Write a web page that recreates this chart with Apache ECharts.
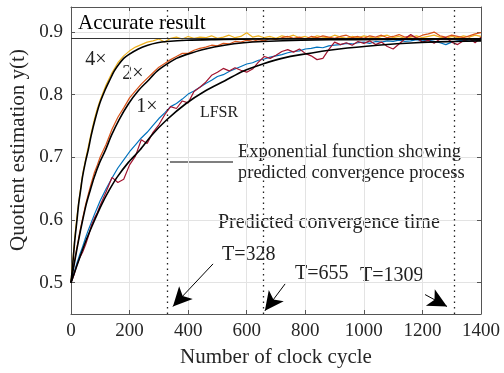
<!DOCTYPE html>
<html>
<head>
<meta charset="utf-8">
<script src="https://cdn.jsdelivr.net/npm/echarts@6/dist/echarts.min.js"></script>
<style>
  html, body { margin: 0; padding: 0; background: #fff; }
  #chart { width: 504px; height: 373px; }
</style>
</head>
<body>
<div id="chart"></div>
<script>
  // clock cycles at which the noisy traces were read
  var tGrid = [0, 5, 10, 15, 20, 25, 30, 40, 50, 60, 70, 80, 90, 100,
    120, 140, 160, 180, 200, 220, 240, 260, 280, 300,
    320, 340, 360, 380, 400, 420, 440, 460, 480, 500,
    520, 540, 560, 580, 600, 620, 640, 660, 680, 700,
    720, 740, 760, 780, 800, 820, 840, 860, 880, 900,
    920, 940, 960, 980, 1000, 1020, 1040, 1060, 1080, 1100,
    1120, 1140, 1160, 1180, 1200, 1220, 1240, 1260, 1280, 1300,
    1320, 1340, 1360, 1380, 1400];

  var y4x = [0.500, 0.531, 0.556, 0.582, 0.604, 0.624, 0.641, 0.674, 0.697, 0.719, 0.741, 0.761, 0.778, 0.792,
    0.816, 0.835, 0.851, 0.862, 0.870, 0.876, 0.880, 0.884, 0.886, 0.889,
    0.884, 0.890, 0.892, 0.889, 0.893, 0.890, 0.892, 0.891, 0.894, 0.890,
    0.892, 0.895, 0.891, 0.893, 0.899, 0.892, 0.894, 0.891, 0.893, 0.890,
    0.894, 0.892, 0.895, 0.891, 0.893, 0.890, 0.894, 0.892, 0.891, 0.895,
    0.892, 0.890, 0.893, 0.891, 0.894, 0.892, 0.890, 0.893, 0.895, 0.891,
    0.893, 0.890, 0.892, 0.894, 0.891, 0.893, 0.895, 0.892, 0.890, 0.893,
    0.891, 0.894, 0.892, 0.895, 0.893];

  var y2x = [0.500, 0.515, 0.530, 0.543, 0.556, 0.568, 0.581, 0.603, 0.625, 0.643, 0.660, 0.676, 0.688, 0.701,
    0.721, 0.745, 0.764, 0.779, 0.795, 0.806, 0.817, 0.826, 0.835, 0.844,
    0.850, 0.856, 0.861, 0.866, 0.866, 0.871, 0.874, 0.876, 0.879, 0.878,
    0.882, 0.881, 0.885, 0.884, 0.887, 0.885, 0.888, 0.886, 0.890, 0.888,
    0.891, 0.893, 0.890, 0.892, 0.889, 0.893, 0.891, 0.894, 0.892, 0.890,
    0.893, 0.895, 0.891, 0.893, 0.890, 0.894, 0.892, 0.895, 0.891, 0.893,
    0.896, 0.892, 0.894, 0.891, 0.895, 0.897, 0.900, 0.894, 0.892, 0.895,
    0.893, 0.891, 0.894, 0.897, 0.899];

  var y1x = [0.500, 0.508, 0.515, 0.523, 0.531, 0.538, 0.545, 0.558, 0.572, 0.585, 0.597, 0.609, 0.620, 0.631,
    0.650, 0.667, 0.683, 0.696, 0.709, 0.720, 0.731, 0.740, 0.751, 0.762,
    0.771, 0.781, 0.786, 0.793, 0.801, 0.806, 0.812, 0.818, 0.823, 0.829,
    0.832, 0.837, 0.841, 0.845, 0.849, 0.851, 0.855, 0.857, 0.860, 0.862,
    0.864, 0.867, 0.869, 0.870, 0.873, 0.874, 0.876, 0.875, 0.878, 0.879,
    0.880, 0.882, 0.881, 0.883, 0.884, 0.882, 0.885, 0.884, 0.886, 0.885,
    0.887, 0.885, 0.886, 0.888, 0.886, 0.887, 0.885, 0.883, 0.880, 0.884,
    0.886, 0.887, 0.885, 0.888, 0.887];

  var yLfsr = [0.500, 0.506, 0.512, 0.520, 0.528, 0.534, 0.540, 0.549, 0.561, 0.575, 0.592, 0.603, 0.612, 0.624,
    0.645, 0.668, 0.660, 0.665, 0.688, 0.702, 0.728, 0.722, 0.740, 0.752,
    0.768, 0.781, 0.778, 0.790, 0.787, 0.805, 0.812, 0.820, 0.831, 0.836,
    0.842, 0.838, 0.843, 0.839, 0.836, 0.841, 0.852, 0.861, 0.858, 0.863,
    0.869, 0.872, 0.868, 0.873, 0.866, 0.862, 0.856, 0.858, 0.872, 0.884,
    0.880, 0.883, 0.879, 0.885, 0.882, 0.886, 0.880, 0.884, 0.877, 0.873,
    0.881, 0.889, 0.896, 0.890, 0.884, 0.887, 0.882, 0.889, 0.891, 0.884,
    0.880, 0.886, 0.890, 0.883, 0.892];

  // black predicted curves
  var fit4T = [0, 7, 13, 20, 26, 33, 39, 49, 59, 69, 82, 98, 115, 131, 148, 164, 180, 197, 230, 262, 295, 328, 394, 492, 656, 1400];
  var fit4Y = [0.500, 0.535, 0.568, 0.598, 0.625, 0.648, 0.668, 0.692, 0.712, 0.735, 0.760, 0.786, 0.806, 0.822, 0.838, 0.849, 0.858, 0.864, 0.873, 0.879, 0.883, 0.885, 0.887, 0.888, 0.889, 0.889];
  var fit2T = [0, 13, 26, 39, 52, 66, 79, 98, 118, 138, 164, 197, 229, 262, 295, 328, 360, 393, 459, 524, 590, 655, 786, 983, 1310, 1400];
  var fit2Y = [0.500, 0.535, 0.568, 0.598, 0.625, 0.648, 0.668, 0.692, 0.712, 0.735, 0.760, 0.786, 0.806, 0.822, 0.838, 0.849, 0.858, 0.864, 0.873, 0.879, 0.883, 0.885, 0.887, 0.888, 0.889, 0.889];
  var fit1T = [0, 26, 52, 79, 105, 131, 157, 196, 236, 275, 327, 393, 458, 524, 589, 655, 720, 785, 916, 1047, 1178, 1309, 1400];
  var fit1Y = [0.500, 0.535, 0.568, 0.598, 0.625, 0.648, 0.668, 0.692, 0.712, 0.735, 0.760, 0.786, 0.806, 0.822, 0.838, 0.849, 0.858, 0.864, 0.873, 0.879, 0.883, 0.885, 0.886];

  var accurate = 0.889;
  var convTimes = [328, 655, 1309];
  // arrows: [from t, from y, to t, to y]
  var arrows = [
    [485, 0.530, 348, 0.462],
    [731, 0.498, 662, 0.455],
    [1209, 0.481, 1284, 0.462]
  ];

  var serif = '"Liberation Serif", "Times New Roman", serif';
  var axisCol = '#555';

  function pairs(xs, ys) {
    return xs.map(function (x, i) { return [x, ys[i]]; });
  }

  function noisy(name, ys, color) {
    return {
      name: name, type: 'line', showSymbol: false,
      data: pairs(tGrid, ys),
      lineStyle: { color: color, width: 1.2 }
    };
  }

  function fit(name, xs, ys) {
    return {
      name: name, type: 'line', smooth: 0.3, showSymbol: false, z: 5,
      data: pairs(xs, ys),
      lineStyle: { color: '#000', width: 1.6 }
    };
  }

  var myChart = echarts.init(document.getElementById('chart'));

  var option = {
    animation: false,
    backgroundColor: '#fff',
    grid: { left: 71, right: 23, top: 7, bottom: 55 },
    xAxis: [
      {
        type: 'value', min: 0, max: 1400, interval: 200,
        name: 'Number of clock cycle', nameLocation: 'middle', nameGap: 33,
        nameTextStyle: { fontFamily: serif, fontSize: 21, color: '#262626' },
        axisLine: { onZero: false, lineStyle: { color: axisCol } },
        axisTick: { inside: true, length: 4, lineStyle: { color: axisCol } },
        axisLabel: {
          fontFamily: serif, fontSize: 19, color: '#262626', margin: 8,
          formatter: function (v) { return String(v); }
        },
        splitLine: { lineStyle: { color: '#e3e3e3' } }
      },
      {
        type: 'value', min: 0, max: 1400, interval: 200, position: 'top',
        axisLine: { onZero: false, lineStyle: { color: axisCol } },
        axisTick: { inside: true, length: 4, lineStyle: { color: axisCol } },
        axisLabel: { show: false },
        splitLine: { show: false }
      }
    ],
    yAxis: [
      {
        type: 'value', min: 0.45, max: 0.94, splitNumber: 5,
        axisLine: { show: true, onZero: false, lineStyle: { color: axisCol } },
        axisTick: { show: true, inside: true, length: 4, lineStyle: { color: axisCol } },
        axisLabel: {
          fontFamily: serif, fontSize: 19, color: '#262626', margin: 8,
          showMinLabel: false, showMaxLabel: false,
          formatter: function (v) { return v.toFixed(1); }
        },
        splitLine: { lineStyle: { color: '#e3e3e3' } }
      },
      {
        type: 'value', min: 0.45, max: 0.94, splitNumber: 5, position: 'right',
        axisLine: { show: true, onZero: false, lineStyle: { color: axisCol } },
        axisTick: { show: true, inside: true, length: 4, lineStyle: { color: axisCol } },
        axisLabel: { show: false },
        splitLine: { show: false }
      }
    ],
    series: [
      noisy('4x', y4x, '#EDB120'),
      noisy('2x', y2x, '#D95319'),
      noisy('1x', y1x, '#0072BD'),
      noisy('LFSR', yLfsr, '#A2142F'),
      fit('fit4', fit4T, fit4Y),
      fit('fit2', fit2T, fit2Y),
      {
        name: 'fit1', type: 'line', smooth: 0.3, showSymbol: false, z: 5,
        data: pairs(fit1T, fit1Y),
        lineStyle: { color: '#000', width: 1.6 },
        markLine: {
          silent: true, symbol: 'none', label: { show: false },
          data: [
            { yAxis: accurate, lineStyle: { color: '#333', width: 1, type: 'solid' } }
          ].concat(convTimes.map(function (t) {
            return { xAxis: t, lineStyle: { color: '#222', width: 1.3, type: [1.5, 4] } };
          })).concat(arrows.map(function (a) {
            return [
              { coord: [a[0], a[1]], symbol: 'none' },
              { coord: [a[2], a[3]], symbol: 'arrow', symbolSize: [14, 19] }
            ];
          })),
          lineStyle: { color: '#000', width: 1, type: 'solid' }
        }
      }
    ],
    graphic: [
      { type: 'text', x: 18, y: 150, rotation: Math.PI / 2,
        style: { text: 'Quotient estimation y(t)', font: '21px ' + serif, fill: '#262626', align: 'center', verticalAlign: 'middle' } },
      { type: 'text', x: 78, y: 23,
        style: { text: 'Accurate result', font: '21px ' + serif, fill: '#000', align: 'left', verticalAlign: 'middle' } },
      { type: 'text', x: 96, y: 60,
        style: { text: '4×', font: '20px ' + serif, fill: '#222', align: 'center', verticalAlign: 'middle' } },
      { type: 'text', x: 133, y: 74,
        style: { text: '2×', font: '20px ' + serif, fill: '#222', align: 'center', verticalAlign: 'middle' } },
      { type: 'text', x: 147, y: 107,
        style: { text: '1×', font: '20px ' + serif, fill: '#222', align: 'center', verticalAlign: 'middle' } },
      { type: 'text', x: 219, y: 113,
        style: { text: 'LFSR', font: '16px ' + serif, fill: '#222', align: 'center', verticalAlign: 'middle' } },
      { type: 'line', shape: { x1: 170, y1: 162, x2: 233, y2: 162 },
        style: { stroke: '#555', lineWidth: 1.5 } },
      { type: 'text', x: 238, y: 152,
        style: { text: 'Exponential function showing', font: '18.5px ' + serif, fill: '#222', align: 'left', verticalAlign: 'middle' } },
      { type: 'text', x: 238, y: 173,
        style: { text: 'predicted convergence process', font: '18.5px ' + serif, fill: '#222', align: 'left', verticalAlign: 'middle' } },
      { type: 'text', x: 218, y: 223,
        style: { text: 'Predicted convergence time', font: '20px ' + serif, fill: '#222', align: 'left', verticalAlign: 'middle' } },
      { type: 'text', x: 222, y: 255,
        style: { text: 'T=328', font: '20px ' + serif, fill: '#222', align: 'left', verticalAlign: 'middle' } },
      { type: 'text', x: 295, y: 274,
        style: { text: 'T=655', font: '20px ' + serif, fill: '#222', align: 'left', verticalAlign: 'middle' } },
      { type: 'text', x: 360, y: 276,
        style: { text: 'T=1309', font: '20px ' + serif, fill: '#222', align: 'left', verticalAlign: 'middle' } }
    ]
  };

  myChart.setOption(option);
</script>
</body>
</html>
